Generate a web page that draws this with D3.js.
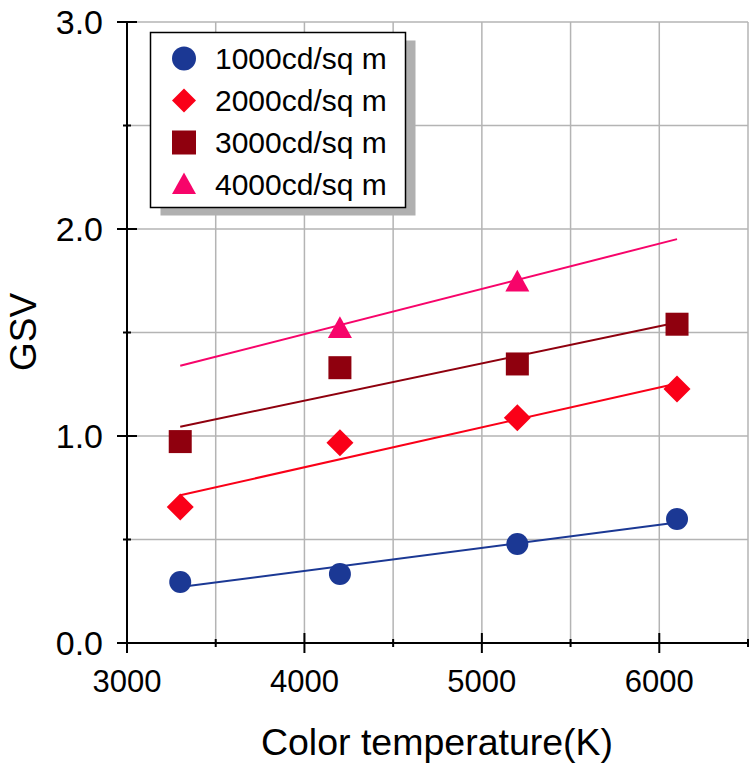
<!DOCTYPE html>
<html>
<head>
<meta charset="utf-8">
<script src="https://cdn.jsdelivr.net/npm/d3@7"></script>
<style>
  html, body { margin: 0; padding: 0; background: #fff; }
  svg { display: block; font-family: "Liberation Sans", Arial, sans-serif; }
</style>
</head>
<body>
<svg id="chart" width="750" height="766"></svg>
<script>
// ---- data ----
const temps = [3300, 4200, 5200, 6100];
const series1000 = [0.295, 0.333, 0.478, 0.599];
const series2000 = [0.657, 0.967, 1.088, 1.227];
const series3000 = [0.973, 1.330, 1.348, 1.540];
const temps4000 = [4200, 5200];
const series4000 = [1.520, 1.745];
const seriesNames = ["1000cd/sq m", "2000cd/sq m", "3000cd/sq m", "4000cd/sq m"];
// fitted trend lines (start, end)
const fitX = [3300, 6100];
const fit1000 = [0.270, 0.582];
const fit2000 = [0.714, 1.254];
const fit3000 = [1.045, 1.548];
const fit4000 = [1.339, 1.951];
const xTicks = [3000, 4000, 5000, 6000];
const xMinorTicks = [3500, 4500, 5500, 6500];
const yTicks = [0, 1, 2, 3];
const yMinorTicks = [0.5, 1.5, 2.5];

const colors = ["#1b3894", "#fa0018", "#8f000e", "#f7046a"];
const shapes = ["circle", "diamond", "square", "triangle"];

const svg = d3.select("#chart");
const x = d3.scaleLinear().domain([3000, 6500]).range([127, 748]);
const y = d3.scaleLinear().domain([0, 3]).range([643, 22]);

// grid
const grid = svg.append("g").attr("stroke", "#b4b4b4").attr("stroke-width", 1.5);
d3.range(3500, 6501, 500).forEach(v => {
  grid.append("line").attr("x1", x(v)).attr("x2", x(v)).attr("y1", y(0)).attr("y2", y(3));
});
d3.range(0.5, 3.01, 0.5).forEach(v => {
  grid.append("line").attr("x1", x(3000)).attr("x2", x(6500)).attr("y1", y(v)).attr("y2", y(v));
});

// axes
const axes = svg.append("g").attr("stroke", "#000").attr("stroke-width", 2);
axes.append("line").attr("x1", x(3000)).attr("x2", x(6500)).attr("y1", y(0)).attr("y2", y(0));
axes.append("line").attr("x1", x(3000)).attr("x2", x(3000)).attr("y1", y(0)).attr("y2", y(3));
xTicks.forEach(v => axes.append("line").attr("x1", x(v)).attr("x2", x(v)).attr("y1", y(0) - 10).attr("y2", y(0) + 10));
xMinorTicks.forEach(v => axes.append("line").attr("x1", x(v)).attr("x2", x(v)).attr("y1", y(0) - 4).attr("y2", y(0) + 4));
yTicks.forEach(v => axes.append("line").attr("x1", x(3000) - 10).attr("x2", x(3000) + 10).attr("y1", y(v)).attr("y2", y(v)));
yMinorTicks.forEach(v => axes.append("line").attr("x1", x(3000) - 4).attr("x2", x(3000) + 4).attr("y1", y(v)).attr("y2", y(v)));

// tick labels
svg.append("g").selectAll("text").data(yTicks).join("text")
  .attr("x", 103).attr("y", d => y(d) + 12)
  .attr("text-anchor", "end").attr("font-size", 34).attr("fill", "#000")
  .text(d => d3.format(".1f")(d));
svg.append("g").selectAll("text").data(xTicks).join("text")
  .attr("x", d => x(d)).attr("y", 692)
  .attr("text-anchor", "middle").attr("font-size", 31).attr("fill", "#000")
  .text(d => d);

// axis titles
svg.append("text").attr("x", 437).attr("y", 755).attr("text-anchor", "middle")
  .attr("font-size", 37.5).text("Color temperature(K)");
svg.append("text").attr("transform", "translate(36,332) rotate(-90)").attr("text-anchor", "middle")
  .attr("font-size", 37).text("GSV");

// symbol helper
function drawSymbol(g, shape, cx, cy, size, color) {
  const h = size / 2;
  if (shape === "circle") {
    g.append("ellipse").attr("cx", cx).attr("cy", cy).attr("rx", h).attr("ry", h).attr("fill", color);
  } else if (shape === "diamond") {
    g.append("path").attr("d", `M${cx},${cy - h}L${cx + h},${cy}L${cx},${cy + h}L${cx - h},${cy}Z`).attr("fill", color);
  } else if (shape === "square") {
    g.append("rect").attr("x", cx - h).attr("y", cy - h).attr("width", size).attr("height", size).attr("fill", color);
  } else {
    g.append("path").attr("d", `M${cx},${cy - size * 0.5}L${cx + h},${cy + size * 0.4}L${cx - h},${cy + size * 0.4}Z`).attr("fill", color);
  }
}

// fit lines
const fits = [fit1000, fit2000, fit3000, fit4000];
const lineGen = d3.line().x(d => x(d[0])).y(d => y(d[1]));
fits.forEach((f, i) => {
  svg.append("path").attr("d", lineGen(fitX.map((t, k) => [t, f[k]])))
    .attr("fill", "none").attr("stroke", colors[i]).attr("stroke-width", 2);
});

// points
const seriesX = [temps, temps, temps, temps4000];
const seriesY = [series1000, series2000, series3000, series4000];
const markSizes = [22, 27, 23, 24];
const pts = svg.append("g");
seriesY.forEach((vals, i) => {
  vals.forEach((v, k) => drawSymbol(pts, shapes[i], x(seriesX[i][k]), y(v), markSizes[i], colors[i]));
});

// legend
const lg = svg.append("g");
lg.append("rect").attr("x", 160.5).attr("y", 40.5).attr("width", 255).attr("height", 175).attr("fill", "#b0b0b0");
lg.append("rect").attr("x", 150.5).attr("y", 32.5).attr("width", 255).attr("height", 175)
  .attr("fill", "#fff").attr("stroke", "#000").attr("stroke-width", 1.5);
seriesNames.forEach((name, i) => {
  const cy = 58.5 + i * 42;
  drawSymbol(lg, shapes[i], 184, cy, 24, colors[i]);
  lg.append("text").attr("x", 215).attr("y", cy + 10.5).attr("font-size", 30).attr("fill", "#000").text(name);
});
</script>
</body>
</html>
